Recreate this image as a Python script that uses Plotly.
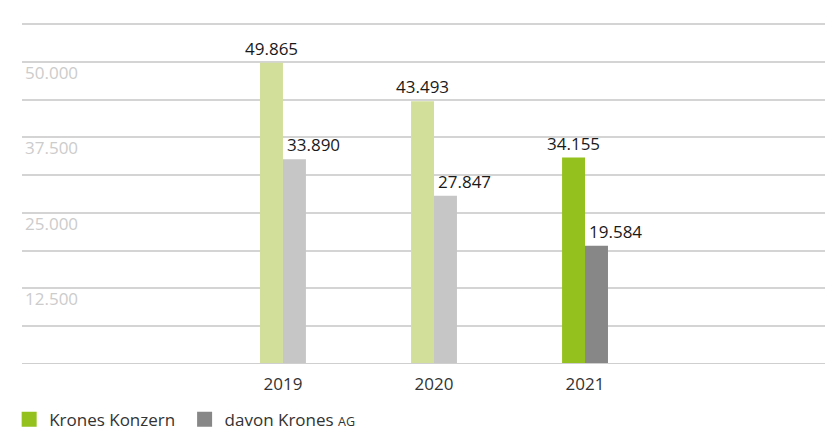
import plotly.graph_objects as go

years = ["2019", "2020", "2021"]
konzern = [49865, 43493, 34155]
krones_ag = [33890, 27847, 19584]
konzern_colors = ["#d2df9b", "#d2df9b", "#95c11f"]
ag_colors = ["#c6c6c6", "#c6c6c6", "#878787"]
y_gridvals = [0, 6250, 12500, 18750, 25000, 31250, 37500, 43750, 50000, 56250]
y_ticktext = ["", "", "12.500", "", "25.000", "", "37.500", "", "50.000", ""]

FONT = "Open Sans"
FS = 17
BW = 0.152

def fmt(v):
    return f"{v:,}".replace(",", ".")

fig = go.Figure()
fig.add_trace(go.Bar(x=years, y=konzern, marker=dict(color=konzern_colors, line=dict(width=0)),
                     width=BW, offset=-BW, showlegend=False, hoverinfo="skip"))
fig.add_trace(go.Bar(x=years, y=krones_ag, marker=dict(color=ag_colors, line=dict(width=0)),
                     width=BW, offset=0, showlegend=False, hoverinfo="skip"))
# legend entries
fig.add_trace(go.Scatter(x=[None], y=[None], mode="markers", name="Krones Konzern&nbsp;",
                         marker=dict(symbol="square", size=15, color=konzern_colors[-1])))
fig.add_trace(go.Scatter(x=[None], y=[None], mode="markers",
                         name="davon Krones <span style='font-size:12.5px'>AG</span>",
                         marker=dict(symbol="square", size=15, color=ag_colors[-1])))

for i, v in enumerate(konzern):
    fig.add_annotation(x=i, y=v, text=fmt(v), showarrow=False, xanchor="center",
                       yanchor="bottom", xshift=-11.5, yshift=1,
                       font=dict(family=FONT, size=FS, color="#1a1a1a"))
for i, v in enumerate(krones_ag):
    fig.add_annotation(x=i, y=v, text=fmt(v), showarrow=False, xanchor="center",
                       yanchor="bottom", xshift=30.5, yshift=1,
                       font=dict(family=FONT, size=FS, color="#1a1a1a"))

fig.update_layout(
    width=825, height=436,
    margin=dict(l=22, r=0, t=22, b=72, autoexpand=False),
    paper_bgcolor="white", plot_bgcolor="white",
    barmode="overlay",
    font=dict(family=FONT, size=FS, color="#333333"),
    showlegend=True,
    legend=dict(orientation="h", x=-0.016, xanchor="left", y=-0.11, yanchor="top",
                font=dict(family=FONT, size=FS, color="#333333"),
                tracegroupgap=0, bgcolor="rgba(0,0,0,0)"),
    xaxis=dict(type="category", range=[-1.728, 3.589], showgrid=False, zeroline=False,
               showline=False, ticks="", ticklabelstandoff=8,
               tickfont=dict(family=FONT, size=FS, color="#333333"),
               fixedrange=True),
    yaxis=dict(range=[0, 56600], tickmode="array", tickvals=y_gridvals, ticktext=y_ticktext,
               showgrid=True, gridcolor="#d4d4d4", gridwidth=1.5, zeroline=False,
               showline=False, ticks="", ticklabelposition="inside",
               ticklabelshift=11, ticklabelstandoff=0,
               tickfont=dict(family=FONT, size=FS, color="#cccccc"), fixedrange=True),
)
fig.add_shape(type="line", xref="paper", yref="y", x0=0, x1=1, y0=0, y1=0,
              line=dict(color="#cfcfcf", width=2), layer="above")

fig.write_html("out.html", config={"displayModeBar": False},
               post_script="document.body.style.margin='0';")
